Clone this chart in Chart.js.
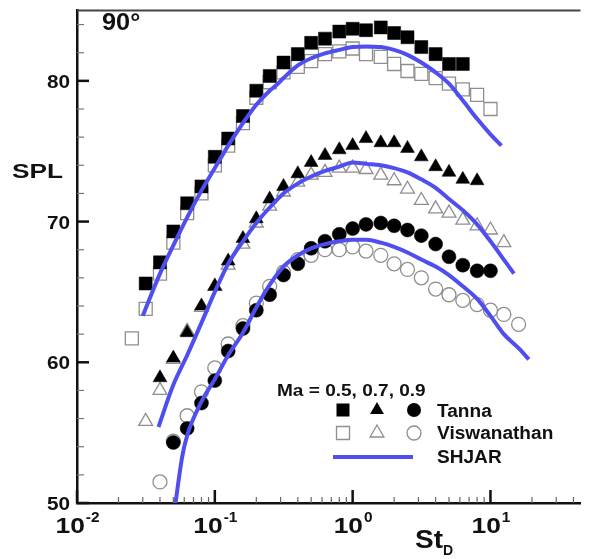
<!DOCTYPE html>
<html lang="en">
<head>
  <meta charset="UTF-8" />
  <title>SPL 90°</title>
  <script src="https://cdn.jsdelivr.net/npm/chart.js"></script>
  <style>
    html, body { margin: 0; padding: 0; background: #fff; overflow: hidden; }
    #wrap { width: 591px; height: 559px; }
  </style>
</head>
<body>
  <div id="wrap"><canvas id="spl" width="591" height="559"></canvas></div>
  <script>
    // Strouhal numbers (1/3-octave bands) and SPL
    const stTanna05 = [0.0315, 0.04, 0.05, 0.063, 0.08, 0.1, 0.125, 0.16, 0.2, 0.25, 0.315, 0.4, 0.5, 0.63, 0.8, 1.0, 1.25, 1.6, 2.0, 2.5, 3.15, 4.0, 5.0, 6.3];
    const splTanna05 = [65.6, 67.1, 69.3, 71.3, 72.5, 74.6, 75.9, 77.5, 79.3, 80.35, 81.3, 81.9, 82.7, 83.0, 83.5, 83.7, 83.6, 83.8, 83.4, 83.1, 82.4, 81.9, 81.2, 81.2];
    const stVisw05 = [0.025, 0.0315, 0.04, 0.05, 0.063, 0.08, 0.1, 0.125, 0.16, 0.2, 0.25, 0.315, 0.4, 0.5, 0.63, 0.8, 1.0, 1.25, 1.6, 2.0, 2.5, 3.15, 4.0, 5.0, 6.3, 8.0, 10.0];
    const splVisw05 = [61.7, 63.8, 66.3, 68.5, 70.6, 72.0, 74.0, 75.4, 77.0, 78.8, 79.9, 80.6, 81.0, 81.4, 81.9, 82.1, 82.3, 81.9, 81.7, 81.2, 80.7, 80.5, 80.2, 79.8, 79.4, 79.0, 78.0];

    const stTanna07 = [0.04, 0.05, 0.063, 0.08, 0.1, 0.125, 0.16, 0.2, 0.25, 0.315, 0.4, 0.5, 0.63, 0.8, 1.0, 1.25, 1.6, 2.0, 2.5, 3.15, 4.0, 5.0, 6.3, 8.0];
    const splTanna07 = [58.9, 60.3, 62.1, 64.0, 65.4, 67.2, 68.8, 70.2, 71.6, 72.5, 73.4, 74.2, 74.7, 75.1, 75.4, 75.9, 75.6, 75.6, 75.2, 74.6, 73.9, 73.5, 73.0, 72.9];
    const stVisw07 = [0.0315, 0.04, 0.05, 0.063, 0.08, 0.1, 0.125, 0.16, 0.2, 0.25, 0.315, 0.4, 0.5, 0.63, 0.8, 1.0, 1.25, 1.6, 2.0, 2.5, 3.15, 4.0, 5.0, 6.3, 8.0, 10.0, 12.5];
    const splVisw07 = [55.8, 58.0, 60.2, 62.2, 63.9, 65.4, 66.9, 68.4, 69.9, 71.1, 72.1, 72.8, 73.3, 73.5, 73.8, 73.8, 73.7, 73.3, 72.9, 72.3, 71.5, 70.9, 70.6, 70.1, 69.7, 69.4, 68.5];

    const stTanna09 = [0.05, 0.063, 0.08, 0.1, 0.125, 0.16, 0.2, 0.25, 0.315, 0.4, 0.5, 0.63, 0.8, 1.0, 1.25, 1.6, 2.0, 2.5, 3.15, 4.0, 5.0, 6.3, 8.0, 10.0];
    const splTanna09 = [54.3, 55.3, 57.1, 58.7, 60.8, 62.4, 63.7, 64.8, 66.2, 67.0, 68.1, 68.6, 69.1, 69.5, 69.8, 69.9, 69.7, 69.4, 69.0, 68.4, 67.5, 66.9, 66.5, 66.5];
    const stVisw09 = [0.04, 0.05, 0.063, 0.08, 0.1, 0.125, 0.16, 0.2, 0.25, 0.315, 0.4, 0.5, 0.63, 0.8, 1.0, 1.25, 1.6, 2.0, 2.5, 3.15, 4.0, 5.0, 6.3, 8.0, 10.0, 12.5, 16.0];
    const splVisw09 = [51.5, 54.4, 56.2, 57.9, 59.6, 61.3, 62.6, 64.2, 65.4, 66.4, 67.3, 67.6, 68.0, 68.0, 68.2, 67.9, 67.6, 67.0, 66.6, 66.0, 65.2, 64.8, 64.4, 64.1, 63.7, 63.4, 62.7];

    // SHJAR predictions
    const stShjar05 = [0.030, 0.04, 0.05, 0.063, 0.08, 0.1, 0.125, 0.16, 0.2, 0.25, 0.28, 0.315, 0.4, 0.5, 0.63, 0.8, 1.0, 1.25, 1.6, 2.0, 2.5, 3.15, 4.0, 5.0, 6.3, 8.0, 10.0, 12.0];
    const splShjar05 = [63.3, 66.3, 68.3, 70.3, 72.2, 73.8, 75.4, 77.0, 78.3, 79.3, 79.7, 80.2, 81.1, 81.6, 81.95, 82.2, 82.4, 82.45, 82.4, 82.2, 81.85, 81.3, 80.6, 79.8, 78.6, 77.3, 76.2, 75.4];
    const stShjar07 = [0.039, 0.05, 0.063, 0.08, 0.1, 0.125, 0.16, 0.2, 0.25, 0.315, 0.4, 0.5, 0.63, 0.8, 1.0, 1.25, 1.6, 2.0, 2.5, 3.15, 4.0, 5.0, 6.3, 8.0, 10.0, 12.5, 14.8];
    const splShjar07 = [55.4, 58.4, 60.5, 62.8, 65.0, 67.0, 68.6, 69.9, 71.0, 72.0, 72.7, 73.2, 73.6, 73.9, 74.2, 74.1, 74.0, 73.8, 73.5, 73.0, 72.4, 71.6, 70.8, 69.8, 68.6, 67.3, 66.3];
    const stShjar09 = [0.051, 0.058, 0.063, 0.08, 0.1, 0.125, 0.16, 0.2, 0.25, 0.315, 0.4, 0.5, 0.63, 0.8, 1.0, 1.25, 1.6, 2.0, 2.5, 3.15, 4.0, 5.0, 6.3, 8.0, 10.0, 12.5, 16.0, 19.0];
    const splShjar09 = [49.5, 53.3, 54.8, 57.2, 58.8, 60.5, 62.1, 63.9, 65.5, 66.8, 67.6, 68.1, 68.4, 68.6, 68.7, 68.7, 68.5, 68.2, 67.8, 67.3, 66.8, 66.2, 65.4, 64.5, 63.3, 62.0, 61.0, 60.2];

    // axis labels
    const yLabels = [50, 60, 70, 80];
    const xLabelExps = [-2, -1, 0, 1];
    const legendMachs = ['0.5', '0.7', '0.9'];

    const FONT = '"Liberation Sans", Arial, Helvetica, sans-serif';
    const BLUE = '#4f4ff0';
    const GREY = '#8e8e8e';

    const pts = (xs, ys) => xs.map((x, i) => ({ x: x, y: ys[i] }));

    function marker(label, xs, ys, style, filled, r) {
      return {
        label: label,
        data: pts(xs, ys),
        showLine: false,
        pointStyle: style,
        pointRadius: r,
        pointBackgroundColor: filled ? '#000' : 'rgba(0,0,0,0)',
        pointBorderColor: filled ? '#000' : GREY,
        pointBorderWidth: filled ? 0.5 : 1.3,
        order: filled ? 1 : 2
      };
    }
    function curve(xs, ys) {
      return {
        label: 'SHJAR',
        data: pts(xs, ys),
        showLine: true,
        borderColor: BLUE,
        borderWidth: 4,
        pointRadius: 0,
        cubicInterpolationMode: 'monotone',
        order: 0
      };
    }

    function txt(ctx, s, x, y, size, align, sx) {
      ctx.save();
      ctx.font = 'bold ' + size + 'px ' + FONT;
      ctx.textBaseline = 'alphabetic';
      ctx.fillStyle = '#111';
      const w = ctx.measureText(s).width * sx;
      let x0 = x;
      if (align === 'center') x0 = x - w / 2;
      else if (align === 'right') x0 = x - w;
      ctx.translate(x0, y);
      ctx.scale(sx, 1);
      ctx.fillText(s, 0, 0);
      ctx.restore();
      return w;
    }
    function txtWidth(ctx, s, size, sx) {
      ctx.save();
      ctx.font = 'bold ' + size + 'px ' + FONT;
      const w = ctx.measureText(s).width * sx;
      ctx.restore();
      return w;
    }

    function symbol(ctx, style, x, y, filled) {
      ctx.save();
      ctx.beginPath();
      if (style === 'rect') {
        ctx.rect(x - 6.5, y - 6.5, 13, 13);
      } else if (style === 'triangle') {
        const r = 8;
        ctx.moveTo(x, y - r);
        ctx.lineTo(x + r * 0.866, y + r / 2);
        ctx.lineTo(x - r * 0.866, y + r / 2);
        ctx.closePath();
      } else {
        ctx.arc(x, y, 7, 0, Math.PI * 2);
      }
      if (filled) { ctx.fillStyle = '#000'; ctx.fill(); }
      else { ctx.strokeStyle = GREY; ctx.lineWidth = 1.3; ctx.stroke(); }
      ctx.restore();
    }

    const decor = {
      id: 'decor',
      afterDraw(chart) {
        const { ctx, chartArea: a, scales: { x, y } } = chart;
        ctx.save();

        // top frame line
        ctx.strokeStyle = '#444';
        ctx.lineWidth = 2;
        ctx.beginPath(); ctx.moveTo(a.left, a.top); ctx.lineTo(a.right, a.top); ctx.stroke();

        // inward ticks on y axis
        for (let v = 50; v <= 84; v += 2) {
          const py = y.getPixelForValue(v);
          const major = v % 10 === 0;
          ctx.strokeStyle = major ? '#111' : '#777';
          ctx.lineWidth = major ? 2.5 : 1.2;
          ctx.beginPath(); ctx.moveTo(a.left, py); ctx.lineTo(a.left + (major ? 12 : 7), py); ctx.stroke();
        }
        // inward ticks on x axis
        for (let e = -2; e <= 1; e++) {
          for (let m = 1; m <= 9; m++) {
            const v = m * Math.pow(10, e);
            if (v > x.max) continue;
            const px = x.getPixelForValue(v);
            const major = m === 1;
            ctx.strokeStyle = major ? '#111' : '#666';
            ctx.lineWidth = major ? 2.5 : 1.2;
            ctx.beginPath(); ctx.moveTo(px, a.bottom); ctx.lineTo(px, a.bottom - (major ? 13 : 6)); ctx.stroke();
          }
        }
        ctx.restore();

        // y tick labels
        yLabels.forEach(v => {
          txt(ctx, String(v), a.left - 7, y.getPixelForValue(v) + 7, 18.5, 'right', 1.12);
        });
        // x tick labels 10^n
        xLabelExps.forEach(e => {
          const px = x.getPixelForValue(Math.pow(10, e));
          const sup = e < 0 ? '-' + (-e) : String(e);
          const w1 = txtWidth(ctx, '10', 22, 1.2);
          const w2 = txtWidth(ctx, sup, 14, 1.1);
          const x0 = px - (w1 + w2) / 2;
          txt(ctx, '10', x0, 533, 22, 'left', 1.2);
          txt(ctx, sup, x0 + w1 + 1, 522, 14, 'left', 1.1);
        });

        // axis titles
        const wSt = txt(ctx, 'St', 415, 548, 25, 'left', 1.12);
        txt(ctx, 'D', 415 + wSt, 555, 14, 'left', 1.0);
        txt(ctx, 'SPL', 12, 178, 21, 'left', 1.25);
        txt(ctx, '90°', 102, 30, 23, 'left', 1.1);

        // legend
        txt(ctx, 'Ma = ' + legendMachs.join(', '), 277, 396, 17, 'left', 1.12);
        const sx = [343, 377, 414];
        const styles = ['rect', 'triangle', 'circle'];
        styles.forEach((s, i) => symbol(ctx, s, sx[i], 410, true));
        styles.forEach((s, i) => symbol(ctx, s, sx[i], 433, false));
        ctx.save();
        ctx.strokeStyle = BLUE; ctx.lineWidth = 4;
        ctx.beginPath(); ctx.moveTo(333, 457); ctx.lineTo(413, 457); ctx.stroke();
        ctx.restore();
        txt(ctx, 'Tanna', 437, 417, 18, 'left', 1.06);
        txt(ctx, 'Viswanathan', 437, 439, 18, 'left', 1.06);
        txt(ctx, 'SHJAR', 437, 463, 18, 'left', 1.06);
      }
    };

    new Chart(document.getElementById('spl'), {
      type: 'scatter',
      data: {
        datasets: [
          curve(stShjar05, splShjar05),
          curve(stShjar07, splShjar07),
          curve(stShjar09, splShjar09),
          marker('Tanna Ma 0.5', stTanna05, splTanna05, 'rect', true, 9.2),
          marker('Tanna Ma 0.7', stTanna07, splTanna07, 'triangle', true, 8),
          marker('Tanna Ma 0.9', stTanna09, splTanna09, 'circle', true, 7),
          marker('Viswanathan Ma 0.5', stVisw05, splVisw05, 'rect', false, 9.2),
          marker('Viswanathan Ma 0.7', stVisw07, splVisw07, 'triangle', false, 8),
          marker('Viswanathan Ma 0.9', stVisw09, splVisw09, 'circle', false, 7)
        ]
      },
      options: {
        responsive: false,
        animation: false,
        events: [],
        layout: { padding: { top: 7, right: 0, left: 0, bottom: 0 } },
        plugins: { legend: { display: false }, tooltip: { enabled: false } },
        scales: {
          x: {
            type: 'logarithmic',
            min: 0.01,
            max: 45,
            grid: { display: false, drawTicks: false },
            border: { display: true, color: '#111', width: 2.5 },
            ticks: { display: false },
            afterFit: s => { s.height = 56; }
          },
          y: {
            min: 50,
            max: 85,
            grid: { display: false, drawTicks: false },
            border: { display: true, color: '#111', width: 2.5 },
            ticks: { display: false },
            afterFit: s => { s.width = 77; }
          }
        }
      },
      plugins: [decor]
    });
  </script>
</body>
</html>
